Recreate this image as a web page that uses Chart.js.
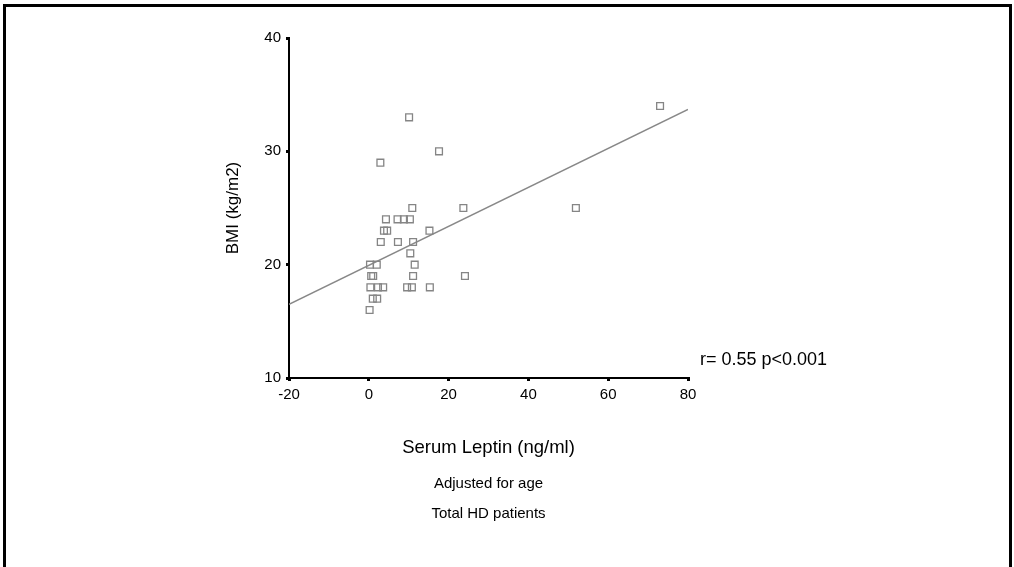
<!DOCTYPE html>
<html>
<head>
<meta charset="utf-8">
<script src="https://cdn.jsdelivr.net/npm/chart.js@4/dist/chart.umd.min.js"></script>
<style>
  html, body { margin: 0; padding: 0; background: #fff; }
  #wrap { width: 1014px; height: 567px; position: relative; }
</style>
</head>
<body>
<div id="wrap"><canvas id="leptinChart" width="1014" height="567"></canvas></div>
<script>
// data
const leptin = [73, 10.1, 17.6, 2.9, 10.9, 23.7, 51.9, 4.3, 7.2, 8.8, 10.3, 3.8, 4.6, 15.2,
    3, 7.3, 11.1, 10.4, 0.3, 2, 11.5, 0.6, 1.1, 11.1, 24.1, 0.4, 2.3, 3.6, 9.6, 10.8, 15.3, 1, 2.1, 0.2];
const bmi = [34, 33, 30, 29, 25, 25, 25, 24, 24, 24, 24, 23, 23, 23,
    22, 22, 22, 21, 20, 20, 20, 19, 19, 19, 19, 18, 18, 18, 18, 18, 18, 17, 17, 16];

// fitted line ends
const fitX = [-20, 80];
const fitY = [16.5, 33.7];

const xTicks = [-20, 0, 20, 40, 60, 80];
const yTicks = [10, 20, 30, 40];

const xTitle = 'Serum Leptin (ng/ml)';
const yTitle = 'BMI (kg/m2)';
const notes = ['Adjusted for age', 'Total HD patients'];
const statText = 'r= 0.55 p<0.001';

const FONT = '"Liberation Sans", Arial, sans-serif';

// frame + titles
const decor = {
    id: 'decor',
    afterDraw(chart) {
        const ctx = chart.ctx;
        const a = chart.chartArea;
        ctx.save();
        ctx.strokeStyle = '#000';
        ctx.lineWidth = 3;
        ctx.beginPath();
        ctx.moveTo(4.5, 600);
        ctx.lineTo(4.5, 5.5);
        ctx.lineTo(1010.5, 5.5);
        ctx.lineTo(1010.5, 600);
        ctx.stroke();

        ctx.fillStyle = '#000';
        ctx.textAlign = 'center';
        ctx.textBaseline = 'middle';

        const mid = (a.left + a.right) / 2;
        ctx.font = '18.5px ' + FONT;
        ctx.fillText(xTitle, mid, 448);

        ctx.font = '15px ' + FONT;
        ctx.fillText(notes[0], mid, 484);
        ctx.fillText(notes[1], mid, 514);

        ctx.save();
        ctx.translate(233, (a.top + a.bottom) / 2);
        ctx.rotate(-Math.PI / 2);
        ctx.font = '17px ' + FONT;
        ctx.fillText(yTitle, 0, 0);
        ctx.restore();

        ctx.textAlign = 'left';
        ctx.font = '18px ' + FONT;
        ctx.fillText(statText, 700, 360);
        ctx.restore();
    }
};

const ctx = document.getElementById('leptinChart').getContext('2d');

new Chart(ctx, {
    type: 'scatter',
    data: {
        datasets: [{
            type: 'line',
            data: fitX.map((x, i) => ({ x: x, y: fitY[i] })),
            borderColor: '#888888',
            borderWidth: 1.5,
            pointRadius: 0,
            fill: false,
            order: 2
        }, {
            data: leptin.map((x, i) => ({ x: x, y: bmi[i] })),
            pointStyle: 'rect',
            pointRadius: 4.8,
            borderColor: '#858585',
            borderWidth: 1.3,
            backgroundColor: 'rgba(0,0,0,0)',
            order: 1
        }]
    },
    options: {
        responsive: false,
        animation: false,
        layout: { padding: { left: 0, top: 38, right: 1014 - 688, bottom: 0 } },
        plugins: {
            legend: { display: false },
            tooltip: { enabled: false }
        },
        scales: {
            x: {
                type: 'linear',
                min: -20,
                max: 80,
                afterFit(s) { s.height = 567 - 378; },
                afterBuildTicks(s) { s.ticks = xTicks.map(v => ({ value: v })); },
                border: { display: true, color: '#000', width: 2 },
                grid: { drawOnChartArea: false, drawTicks: true, tickLength: 3, color: '#000', lineWidth: 3 },
                ticks: { color: '#000', font: { family: FONT, size: 15 }, padding: 5, maxRotation: 0 }
            },
            y: {
                type: 'linear',
                min: 10,
                max: 40,
                afterFit(s) { s.width = 289; },
                afterBuildTicks(s) { s.ticks = yTicks.map(v => ({ value: v })); },
                border: { display: true, color: '#000', width: 2 },
                grid: { drawOnChartArea: false, drawTicks: true, tickLength: 3, color: '#000', lineWidth: 3 },
                ticks: { color: '#000', font: { family: FONT, size: 15 }, padding: 5 }
            }
        }
    },
    plugins: [decor]
});
</script>
</body>
</html>
